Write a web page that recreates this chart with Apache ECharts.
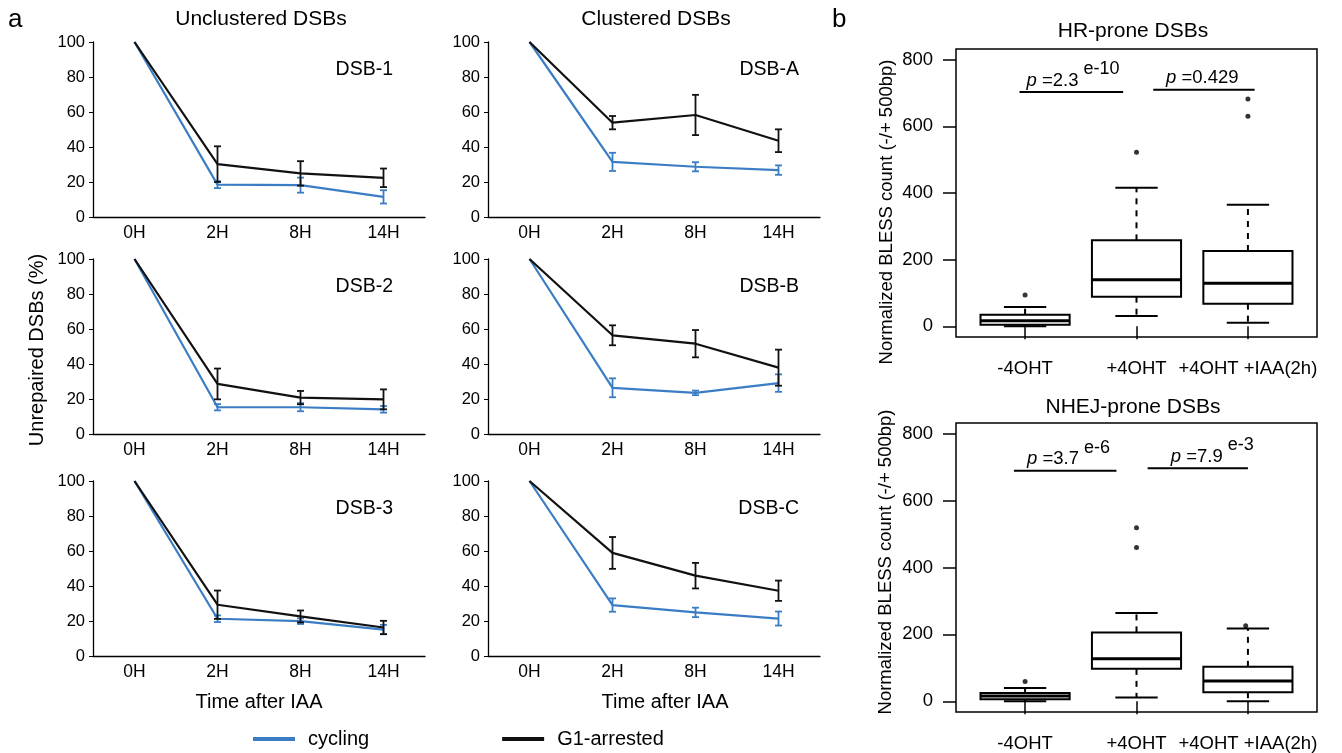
<!DOCTYPE html>
<html><head><meta charset="utf-8">
<script src="https://cdn.jsdelivr.net/npm/echarts@6/dist/echarts.min.js"></script>
<style>html,body{margin:0;padding:0;background:#fff}#c{width:1342px;height:753px}</style>
</head><body><div id="c"></div>
<script>
// ---------- DATA ----------
const categories = ['0H', '2H', '8H', '14H'];
const panelNames = ['DSB-1', 'DSB-A', 'DSB-2', 'DSB-B', 'DSB-3', 'DSB-C'];

const dsb1Cycling = [100, 18.5, 18.2, 11.5];  const dsb1CyclingErr = [0, 2.0, 4.3, 3.8];
const dsb1G1      = [100, 30.2, 24.9, 22.4];  const dsb1G1Err      = [0, 10.2, 7.0, 5.3];
const dsbACycling = [100, 31.5, 28.7, 26.8];  const dsbACyclingErr = [0, 5.2, 2.6, 2.7];
const dsbAG1      = [100, 53.9, 58.3, 43.6];  const dsbAG1Err      = [0, 3.8, 11.5, 6.5];
const dsb2Cycling = [100, 15.3, 15.3, 14.1];  const dsb2CyclingErr = [0, 1.8, 2.3, 1.9];
const dsb2G1      = [100, 28.6, 20.8, 19.8];  const dsb2G1Err      = [0, 8.8, 3.8, 5.7];
const dsbBCycling = [100, 26.4, 23.5, 29.1];  const dsbBCyclingErr = [0, 5.4, 1.3, 5.0];
const dsbBG1      = [100, 56.4, 51.6, 37.9];  const dsbBG1Err      = [0, 5.7, 7.8, 10.3];
const dsb3Cycling = [100, 21.3, 19.9, 15.1];  const dsb3CyclingErr = [0, 1.9, 1.6, 2.7];
const dsb3G1      = [100, 29.3, 22.6, 16.3];  const dsb3G1Err      = [0, 8.1, 3.4, 3.8];
const dsbCCycling = [100, 29.1, 24.9, 21.4];  const dsbCCyclingErr = [0, 3.8, 2.7, 4.0];
const dsbCG1      = [100, 58.9, 45.9, 37.3];  const dsbCG1Err      = [0, 9.1, 7.3, 5.8];

const boxCategories = ['-4OHT', '+4OHT', '+4OHT +IAA(2h)'];
// [low whisker, Q1, median, Q3, high whisker]
const hrBoxes   = [[0, 5, 17, 35, 58], [31, 89, 140, 258, 416], [11, 68, 129, 226, 365]];
const hrOutliers   = [[1, 94], [2, 522], [3, 630], [3, 682]];
const nhejBoxes = [[0, 6, 16, 25, 40], [11, 97, 127, 206, 264], [0, 27, 61, 103, 218]];
const nhejOutliers = [[1, 59], [2, 460], [2, 519], [2.98, 226]];
const boxYTicks = [0, 200, 400, 600, 800];

// p-value brackets: [x1, x2, y]
const hrPLines   = [[0.95, 1.88, 703], [2.15, 3.06, 710]];
const nhejPLines = [[0.90, 1.82, 689], [2.10, 3.00, 697]];
const hrPTexts   = [['2.3', 'e-10'], ['0.429', '']];
const nhejPTexts = [['3.7', 'e-6'], ['7.9', 'e-3']];
const hrPTextX   = [1.43, 2.59];
const nhejPTextX = [1.39, 2.68];

// ---------- CHART ----------
const FONT = '"Liberation Sans", Arial, sans-serif';
const BLUE = '#3b7dc4', BLACK = '#111';
const panels = [
  [dsb1Cycling, dsb1CyclingErr, dsb1G1, dsb1G1Err],
  [dsbACycling, dsbACyclingErr, dsbAG1, dsbAG1Err],
  [dsb2Cycling, dsb2CyclingErr, dsb2G1, dsb2G1Err],
  [dsbBCycling, dsbBCyclingErr, dsbBG1, dsbBG1Err],
  [dsb3Cycling, dsb3CyclingErr, dsb3G1, dsb3G1Err],
  [dsbCCycling, dsbCCyclingErr, dsbCG1, dsbCG1Err]
];
const lineGridPos = [[93, 42], [488, 42], [93, 259], [488, 259], [93, 481], [488, 481]];

const grid = [], xAxis = [], yAxis = [], series = [], graphic = [];

function errRender(color) {
  return function (params, api) {
    const x = api.value(0), lo = api.value(1), hi = api.value(2);
    if (hi - lo < 0.01) return null;
    const a = api.coord([x, hi]), b = api.coord([x, lo]);
    const w = 3.5, st = { stroke: color, lineWidth: 1.8 };
    return { type: 'group', children: [
      { type: 'line', shape: { x1: a[0], y1: a[1], x2: b[0], y2: b[1] }, style: st },
      { type: 'line', shape: { x1: a[0] - w, y1: a[1], x2: a[0] + w, y2: a[1] }, style: st },
      { type: 'line', shape: { x1: b[0] - w, y1: b[1], x2: b[0] + w, y2: b[1] }, style: st }
    ]};
  };
}

panels.forEach((p, i) => {
  const [l, t] = lineGridPos[i];
  grid.push({ left: l, top: t, width: 332, height: 175 });
  xAxis.push({ gridIndex: i, type: 'category', data: categories, boundaryGap: true,
    axisLine: { lineStyle: { color: '#000', width: 1.3 } },
    axisTick: { length: 4, lineStyle: { color: '#000' } },
    axisLabel: { color: '#000', fontSize: 17.5, fontFamily: FONT, margin: 7 } });
  yAxis.push({ gridIndex: i, type: 'value', min: 0, max: 100, interval: 20,
    axisLine: { show: true, lineStyle: { color: '#000', width: 1.3 } },
    axisTick: { show: true, length: 4, lineStyle: { color: '#000' } },
    splitLine: { show: false },
    axisLabel: { color: '#000', fontSize: 16.5, fontFamily: FONT, margin: 8 } });
  const [cyc, cycE, g1, g1E] = p;
  series.push({ type: 'custom', xAxisIndex: i, yAxisIndex: i, renderItem: errRender(BLUE),
    data: cyc.map((v, k) => [k, v - cycE[k], v + cycE[k]]), z: 3 });
  series.push({ type: 'line', name: 'cycling', xAxisIndex: i, yAxisIndex: i, data: cyc,
    symbol: 'none', lineStyle: { color: BLUE, width: 2.2 }, itemStyle: { color: BLUE }, z: 4 });
  series.push({ type: 'line', name: 'G1-arrested', xAxisIndex: i, yAxisIndex: i, data: g1,
    symbol: 'none', lineStyle: { color: BLACK, width: 2.2 }, itemStyle: { color: BLACK }, z: 5 });
  series.push({ type: 'custom', xAxisIndex: i, yAxisIndex: i, renderItem: errRender(BLACK),
    data: g1.map((v, k) => [k, v - g1E[k], v + g1E[k]]), z: 6 });
  const right = (i % 2 === 0) ? l + 300 : l + 311;
  graphic.push({ type: 'text', x: right, y: t + 28,
    style: { text: panelNames[i], fontSize: 19.5, fontFamily: FONT, fill: '#000', align: 'right', verticalAlign: 'middle' } });
});

function boxRender(params, api) {
  const x = api.value(0), lo = api.value(1), q1 = api.value(2), md = api.value(3), q3 = api.value(4), hi = api.value(5);
  const bw = 0.4, cw = 0.19;
  const L = api.coord([x - bw, q3]), R = api.coord([x + bw, q1]);
  const m1 = api.coord([x - bw, md]), m2 = api.coord([x + bw, md]);
  const c = api.coord([x, hi]), cq3 = api.coord([x, q3]), cq1 = api.coord([x, q1]), cl = api.coord([x, lo]);
  const cwPx = api.coord([x + cw, 0])[0] - c[0];
  const st = { stroke: '#000', lineWidth: 2, fill: null };
  const dash = { stroke: '#000', lineWidth: 2, lineDash: [6, 6] };
  return { type: 'group', children: [
    { type: 'line', shape: { x1: c[0], y1: cq3[1], x2: c[0], y2: c[1] }, style: dash },
    { type: 'line', shape: { x1: c[0], y1: cq1[1], x2: c[0], y2: cl[1] }, style: dash },
    { type: 'line', shape: { x1: c[0] - cwPx, y1: c[1], x2: c[0] + cwPx, y2: c[1] }, style: st },
    { type: 'line', shape: { x1: c[0] - cwPx, y1: cl[1], x2: c[0] + cwPx, y2: cl[1] }, style: st },
    { type: 'rect', shape: { x: L[0], y: L[1], width: R[0] - L[0], height: R[1] - L[1] }, style: { stroke: '#000', lineWidth: 2, fill: '#fff' } },
    { type: 'line', shape: { x1: m1[0], y1: m1[1], x2: m2[0], y2: m2[1] }, style: { stroke: '#000', lineWidth: 3 } }
  ]};
}

function pRender(texts, textX) {
  return function (params, api) {
    const i = params.dataIndex;
    const a = api.coord([api.value(0), api.value(2)]), b = api.coord([api.value(1), api.value(2)]);
    const tc = api.coord([textX[i], api.value(2)]);
    const [num, sup] = texts[i];
    const txt = '{i|p}{n| =' + num + '}' + (sup ? '{s| ' + sup + '}' : '');
    return { type: 'group', children: [
      { type: 'line', shape: { x1: a[0], y1: a[1], x2: b[0], y2: b[1] }, style: { stroke: '#000', lineWidth: 2 } },
      { type: 'text', x: tc[0], y: a[1] - 2, style: { text: txt, align: 'center', verticalAlign: 'bottom',
        rich: {
          i: { fontStyle: 'italic', fontSize: 18.5, fontFamily: FONT, fill: '#000', verticalAlign: 'bottom', lineHeight: 30 },
          n: { fontSize: 18.5, fontFamily: FONT, fill: '#000', verticalAlign: 'bottom', lineHeight: 30 },
          s: { fontSize: 18, fontFamily: FONT, fill: '#000', verticalAlign: 'top', lineHeight: 20 }
        } } }
    ]};
  };
}

const boxSets = [
  { top: 49, height: 288, boxes: hrBoxes, out: hrOutliers, lines: hrPLines, texts: hrPTexts, tx: hrPTextX },
  { top: 423, height: 289, boxes: nhejBoxes, out: nhejOutliers, lines: nhejPLines, texts: nhejPTexts, tx: nhejPTextX }
];
boxSets.forEach((b, j) => {
  const gi = 6 + j;
  grid.push({ left: 956, top: b.top, width: 361, height: b.height, show: true, borderColor: '#000', borderWidth: 1.5, backgroundColor: 'transparent' });
  xAxis.push({ gridIndex: gi, type: 'value', min: 0.38, max: 3.62,
    axisLine: { show: false }, splitLine: { show: false },
    axisTick: { show: true, customValues: [1, 2, 3], length: 13, lineStyle: { color: '#000', width: 1.5 } },
    axisLabel: { customValues: [1, 2, 3], formatter: v => boxCategories[Math.round(v) - 1], color: '#000', fontSize: 18.5, fontFamily: FONT, margin: 22 } });
  yAxis.push({ gridIndex: gi, type: 'value', min: -32, max: 832,
    axisLine: { show: false }, splitLine: { show: false },
    axisTick: { show: true, customValues: boxYTicks, length: 13, lineStyle: { color: '#000', width: 1.5 } },
    axisLabel: { customValues: boxYTicks, color: '#000', fontSize: 18.5, fontFamily: FONT, margin: 23 } });
  series.push({ type: 'custom', xAxisIndex: gi, yAxisIndex: gi, renderItem: boxRender,
    data: b.boxes.map((d, k) => [k + 1].concat(d)), clip: false });
  series.push({ type: 'scatter', xAxisIndex: gi, yAxisIndex: gi, data: b.out, symbolSize: 5,
    itemStyle: { color: '#000' }, z: 5 });
  series.push({ type: 'custom', xAxisIndex: gi, yAxisIndex: gi, renderItem: pRender(b.texts, b.tx),
    data: b.lines, clip: false });
});

const txt = (o) => Object.assign({ type: 'text' }, o);
const ctr = (s, size) => ({ text: s, fontSize: size, fontFamily: FONT, fill: '#000', align: 'center', verticalAlign: 'middle' });
graphic.push(
  txt({ x: 8, y: 20, style: { text: 'a', fontSize: 26, fontFamily: FONT, fill: '#000', verticalAlign: 'middle' } }),
  txt({ x: 832, y: 20, style: { text: 'b', fontSize: 26, fontFamily: FONT, fill: '#000', verticalAlign: 'middle' } }),
  txt({ x: 261, y: 19, style: ctr('Unclustered DSBs', 21) }),
  txt({ x: 656, y: 19, style: ctr('Clustered DSBs', 21) }),
  txt({ x: 259, y: 702, style: ctr('Time after IAA', 20) }),
  txt({ x: 665, y: 702, style: ctr('Time after IAA', 20) }),
  txt({ x: 37, y: 350, rotation: Math.PI / 2, style: ctr('Unrepaired DSBs (%)', 20) }),
  txt({ x: 1133, y: 31, style: ctr('HR-prone DSBs', 21) }),
  txt({ x: 1133, y: 407, style: ctr('NHEJ-prone DSBs', 21) }),
  txt({ x: 887, y: 212, rotation: Math.PI / 2, style: ctr('Normalized BLESS count (-/+ 500bp)', 18.5) }),
  txt({ x: 886, y: 562, rotation: Math.PI / 2, style: ctr('Normalized BLESS count (-/+ 500bp)', 18.5) })
);

const chart = echarts.init(document.getElementById('c'), null, { renderer: 'canvas' });
chart.setOption({
  animation: false,
  backgroundColor: '#fff',
  grid, xAxis, yAxis, series, graphic,
  legend: {
    data: [{ name: 'cycling', itemStyle: { color: BLUE } }, { name: 'G1-arrested', itemStyle: { color: BLACK } }],
    left: 248, top: 724, icon: 'rect', itemWidth: 42, itemHeight: 4, itemGap: 133,
    textStyle: { fontSize: 20, fontFamily: FONT, color: '#000', padding: [0, 0, 0, 8] },
    selectedMode: false
  }
});
</script></body></html>
